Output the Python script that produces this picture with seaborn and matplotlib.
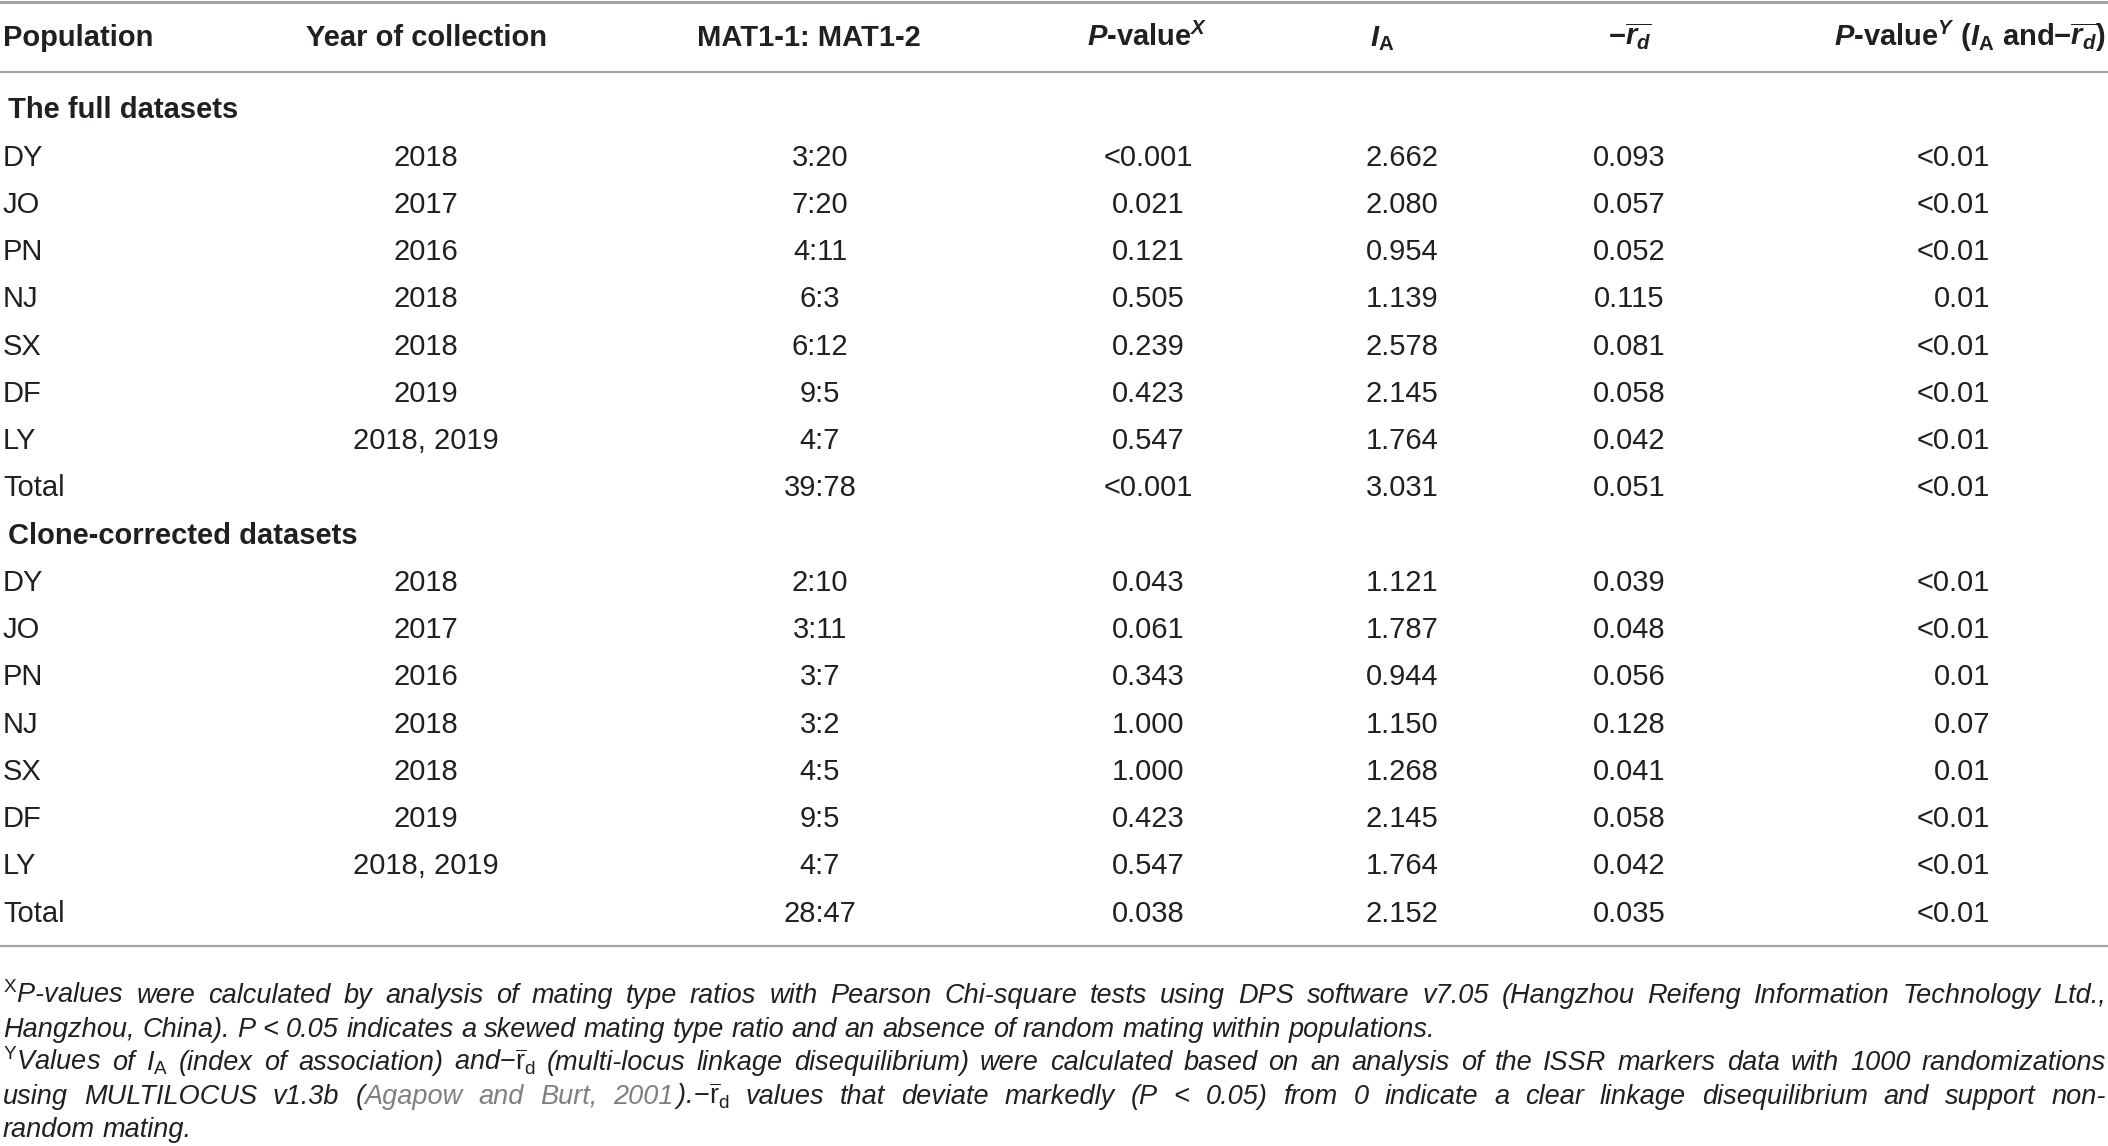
import matplotlib
matplotlib.use("Agg")
import matplotlib.pyplot as plt
import seaborn as sns
import pandas as pd

# ---------------- data ----------------
sections = ["The full datasets", "Clone-corrected datasets"]
populations = ["DY", "JO", "PN", "NJ", "SX", "DF", "LY", "Total"]
years = ["2018", "2017", "2016", "2018", "2018", "2019", "2018, 2019", ""]

full_ratio = ["3:20", "7:20", "4:11", "6:3", "6:12", "9:5", "4:7", "39:78"]
full_p = ["<0.001", "0.021", "0.121", "0.505", "0.239", "0.423", "0.547", "<0.001"]
full_ia = ["2.662", "2.080", "0.954", "1.139", "2.578", "2.145", "1.764", "3.031"]
full_rd = ["0.093", "0.057", "0.052", "0.115", "0.081", "0.058", "0.042", "0.051"]
full_py = ["<0.01", "<0.01", "<0.01", "0.01", "<0.01", "<0.01", "<0.01", "<0.01"]

clone_ratio = ["2:10", "3:11", "3:7", "3:2", "4:5", "9:5", "4:7", "28:47"]
clone_p = ["0.043", "0.061", "0.343", "1.000", "1.000", "0.423", "0.547", "0.038"]
clone_ia = ["1.121", "1.787", "0.944", "1.150", "1.268", "2.145", "1.764", "2.152"]
clone_rd = ["0.039", "0.048", "0.056", "0.128", "0.041", "0.058", "0.042", "0.035"]
clone_py = ["<0.01", "<0.01", "0.01", "0.07", "0.01", "<0.01", "<0.01", "<0.01"]

headers = [
    "Population",
    "Year of collection",
    "MAT1-1: MAT1-2",
    r"$\mathbfit{P}$-value$^{\mathbfit{X}}$",
    r"$\mathbfit{I}_{\mathbf{A}}$",
    r"$\mathbf{-}\overline{\mathbfit{r}_{\mathbfit{d}}}$",
    r"$\mathbfit{P}$-value$^{\mathbfit{Y}}$ ($\mathbfit{I}_{\mathbf{A}}$ and$\mathbf{-}\overline{\mathbfit{r}_{\mathbfit{d}}}$)",
]

K = "#231f20"
G = "#808080"
RD = r"$-\overline{\mathrm{r}}_{\mathrm{d}}$"
foot_lines = [
    ([r"${}^{\mathrm{X}}$P-values were calculated by analysis of mating type ratios with Pearson Chi-square tests using DPS software v7.05 (Hangzhou Reifeng Information Technology Ltd.,"], True),
    (["Hangzhou, China). P < 0.05 indicates a skewed mating type ratio and an absence of random mating within populations."], False),
    ([r"${}^{\mathrm{Y}}$Values of $I_{\mathrm{A}}$ (index of association) and" + RD + " (multi-locus linkage disequilibrium) were calculated based on an analysis of the ISSR markers data with 1000 randomizations"], True),
    (["using MULTILOCUS v1.3b", ("(", "Agapow and Burt, 2001", ")." + RD),
      "values that deviate markedly (P < 0.05) from 0 indicate a clear linkage disequilibrium and support non-"], True),
    (["random mating."], False),
]

# ---------------- style ----------------
sns.set_theme(style="white")
plt.rcParams["font.family"] = ["Liberation Sans", "DejaVu Sans"]
plt.rcParams["mathtext.fontset"] = "custom"
plt.rcParams["mathtext.rm"] = "Liberation Sans"
plt.rcParams["mathtext.it"] = "Liberation Sans:italic"
plt.rcParams["mathtext.bf"] = "Liberation Sans:bold"
plt.rcParams["mathtext.sf"] = "Liberation Sans"
try:
    plt.rcParams["mathtext.bfit"] = "Liberation Sans:italic:bold"
except KeyError:
    pass

W, H = 2108, 1146
fig = plt.figure(figsize=(W / 100, H / 100), dpi=100)
ax = fig.add_axes([0, 0, 1, 1])
ax.set_xlim(0, W)
ax.set_ylim(H, 0)
ax.axis("off")
sns.despine(ax=ax, left=True, bottom=True)

FS = 21
LINE_C = "#a3a3a3"

# rules
ax.axhline(1.5, color=LINE_C, lw=2.2)
ax.axhline(72, color=LINE_C, lw=1.6)
ax.axhline(946, color=LINE_C, lw=1.6)

# header
hdr_pos = [(3, "left"), (426, "center"), (809, "center"), (1147, "center"),
           (1382, "center"), (1630, "center"), (2106, "right")]
for (x, ha), h in zip(hdr_pos, headers):
    ax.text(x, 46, h, ha=ha, va="baseline", fontsize=FS, fontweight="bold", color=K)

# body
df = pd.DataFrame({
    "section": [sections[0]] * 8 + [sections[1]] * 8,
    "pop": populations * 2,
    "year": years * 2,
    "ratio": full_ratio + clone_ratio,
    "p": full_p + clone_p,
    "ia": full_ia + clone_ia,
    "rd": full_rd + clone_rd,
    "py": full_py + clone_py,
})
col_pos = {"pop": (3, "left"), "year": (426, "center"), "ratio": (820, "center"),
           "p": (1148, "center"), "ia": (1402, "center"), "rd": (1629, "center"),
           "py": (1990, "right")}
Y0, STEP, BOFF = 108, 47.24, 10.5
line = 0
for sec, grp in df.groupby("section", sort=False):
    ax.text(8, Y0 + STEP * line + BOFF, sec, ha="left", va="baseline",
            fontsize=FS, fontweight="bold", color=K)
    line += 1
    for _, row in grp.iterrows():
        yb = Y0 + STEP * line + BOFF
        for c, (x, ha) in col_pos.items():
            if row[c]:
                ax.text(x, yb, row[c], ha=ha, va="baseline", fontsize=FS, color=K)
        line += 1

# footnotes
renderer = fig.canvas.get_renderer()


def make_words(spec):
    words = []
    for item in spec:
        if isinstance(item, tuple):
            pre, gray, post = item
            gw = gray.split(" ")
            for i, w in enumerate(gw):
                pieces = []
                if i == 0:
                    pieces.append((pre, K))
                pieces.append((w, G))
                if i == len(gw) - 1:
                    pieces.append((post, K))
                words.append(pieces)
        else:
            for w in item.split(" "):
                words.append([(w, K)])
    return words


def measure(t, size):
    tx = ax.text(0, 0, t, fontsize=size, style="italic")
    w = tx.get_window_extent(renderer).width
    tx.remove()
    return w


X0, X1 = 3, 2106
fsize = 19.5
while True:
    sp = measure("a a", fsize) - measure("aa", fsize)
    ok = True
    for spec, just in foot_lines:
        words = make_words(spec)
        tot = sum(measure(t, fsize) for w in words for t, _ in w)
        if tot + sp * 0.8 * (len(words) - 1) > X1 - X0:
            ok = False
    if ok or fsize < 14:
        break
    fsize -= 0.25

FY0, FSTEP = 1003, 33.6
sp = measure("a a", fsize) - measure("aa", fsize)
for i, (spec, just) in enumerate(foot_lines):
    y = FY0 + FSTEP * i
    words = make_words(spec)
    placed = []
    for w in words:
        pcs = []
        for t, c in w:
            tx = ax.text(0, y, t, fontsize=fsize, style="italic", color=c,
                         ha="left", va="baseline")
            pcs.append((tx, tx.get_window_extent(renderer).width))
        placed.append(pcs)
    widths = [sum(p[1] for p in pcs) for pcs in placed]
    gap = (X1 - X0 - sum(widths)) / (len(placed) - 1) if just else sp
    x = X0
    for pcs, wd in zip(placed, widths):
        xx = x
        for tx, wpx in pcs:
            tx.set_x(xx)
            xx += wpx
        x += wd + gap

fig.savefig("out.png", dpi=100, facecolor="white")
